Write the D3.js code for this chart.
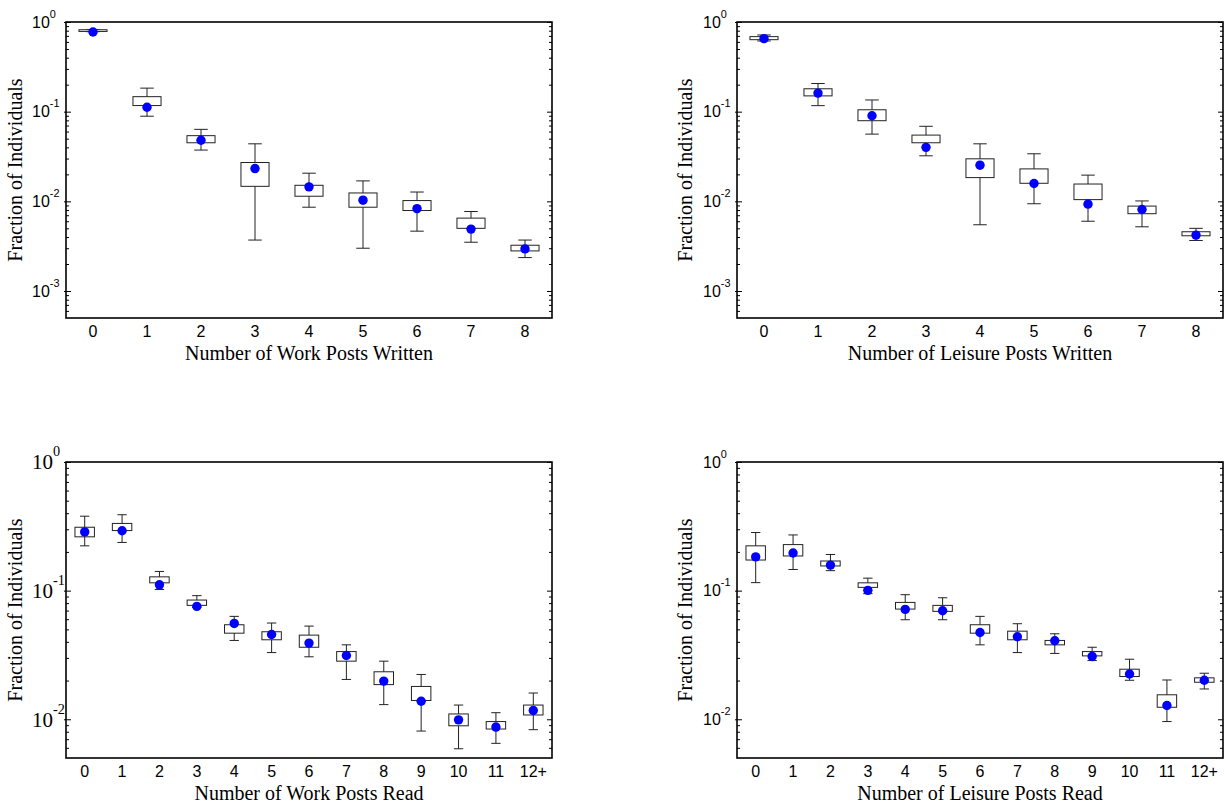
<!DOCTYPE html>
<html>
<head>
<meta charset="utf-8">
<script src="https://cdn.jsdelivr.net/npm/d3@7"></script>
<style>
  body { margin: 0; background: #fff; }
  svg { display: block; }
</style>
</head>
<body>
<div id="chart"></div>
<script>
// categories
const catsWritten = ["0", "1", "2", "3", "4", "5", "6", "7", "8"];
const catsRead = ["0", "1", "2", "3", "4", "5", "6", "7", "8", "9", "10", "11", "12+"];

// work posts written
const workWrittenHi   = [0.825, 0.183, 0.0635, 0.0438, 0.0206, 0.0169, 0.0127, 0.0077, 0.0037];
const workWrittenQ3   = [0.82, 0.147, 0.054, 0.0271, 0.0151, 0.0124, 0.0102, 0.0065, 0.00324];
const workWrittenQ1   = [0.785, 0.117, 0.045, 0.0147, 0.0114, 0.0086, 0.0079, 0.0050, 0.0028];
const workWrittenLo   = [0.78, 0.089, 0.0373, 0.0037, 0.0086, 0.0030, 0.00465, 0.0035, 0.00236];
const workWrittenMean = [0.774, 0.112, 0.048, 0.0232, 0.0145, 0.0103, 0.0083, 0.0049, 0.00295];

// leisure posts written
const leisureWrittenHi   = [0.717, 0.206, 0.135, 0.0687, 0.0438, 0.0339, 0.0196, 0.0101, 0.0050];
const leisureWrittenQ3   = [0.687, 0.180, 0.105, 0.0548, 0.0298, 0.023, 0.0156, 0.00885, 0.00458];
const leisureWrittenQ1   = [0.635, 0.150, 0.0793, 0.045, 0.0184, 0.0159, 0.01045, 0.00728, 0.00413];
const leisureWrittenLo   = [0.614, 0.1167, 0.0562, 0.0322, 0.00548, 0.0094, 0.0060, 0.0052, 0.00366];
const leisureWrittenMean = [0.652, 0.161, 0.090, 0.040, 0.0253, 0.0158, 0.0093, 0.0081, 0.0042];

// work posts read
const workReadHi   = [0.379, 0.389, 0.141, 0.0914, 0.0631, 0.056, 0.053, 0.0379, 0.0283, 0.0223, 0.0129, 0.01125, 0.016];
const workReadQ3   = [0.311, 0.333, 0.128, 0.0845, 0.0543, 0.0479, 0.0451, 0.0336, 0.0234, 0.018, 0.011, 0.0096, 0.0129];
const workReadQ1   = [0.262, 0.293, 0.115, 0.0768, 0.0467, 0.0415, 0.0363, 0.0283, 0.0186, 0.014, 0.0089, 0.0084, 0.0108];
const workReadLo   = [0.223, 0.237, 0.102, 0.074, 0.041, 0.033, 0.0306, 0.0204, 0.013, 0.0081, 0.0059, 0.0065, 0.0083];
const workReadMean = [0.286, 0.292, 0.111, 0.0755, 0.0556, 0.0456, 0.0391, 0.0313, 0.0198, 0.0138, 0.0099, 0.0087, 0.0117];

// leisure posts read
const leisureReadHi   = [0.283, 0.271, 0.191, 0.125, 0.093, 0.088, 0.0631, 0.0553, 0.0462, 0.0363, 0.0293, 0.0202, 0.0228];
const leisureReadQ3   = [0.223, 0.228, 0.170, 0.115, 0.081, 0.0768, 0.0543, 0.0484, 0.041, 0.0336, 0.0245, 0.0155, 0.021];
const leisureReadQ1   = [0.173, 0.186, 0.1555, 0.106, 0.0719, 0.069, 0.0467, 0.0415, 0.0379, 0.0311, 0.0215, 0.0124, 0.0194];
const leisureReadLo   = [0.1154, 0.146, 0.143, 0.0947, 0.0594, 0.0594, 0.0379, 0.033, 0.0325, 0.0286, 0.0201, 0.0096, 0.0172];
const leisureReadMean = [0.183, 0.196, 0.158, 0.1005, 0.0715, 0.0698, 0.0473, 0.0438, 0.0408, 0.0308, 0.0225, 0.0128, 0.0201];

// y axis decades
const decadesWritten = [1, 0.1, 0.01, 0.001];
const decadesRead = [1, 0.1, 0.01];

const SANS = "'Liberation Sans', Arial, sans-serif";
const SERIF = "'Liberation Serif', 'Times New Roman', serif";

const svg = d3.select('#chart')
    .append('svg')
    .attr('width', 1225)
    .attr('height', 807);

const width = 486, height = 296;

function minorTicks(domain) {
    let out = [];
    for (let e = -4; e < 0; e++) {
        for (let m = 2; m <= 9; m++) {
            let v = m * Math.pow(10, e);
            if (v > domain[0] * 1.0001 && v < domain[1]) out.push(v);
        }
    }
    return out;
}

function drawPanel(p) {
    const group = svg.append('g')
        .attr('transform', 'translate(' + p.left + ',' + p.top + ')');

    const xScale = d3.scaleBand()
        .domain(p.cats)
        .range([0, width]);

    const yScale = d3.scaleLog()
        .domain(p.domain)
        .range([height, 0]);

    const step = xScale.bandwidth();
    const cx = d => xScale(d) + step / 2;

    // y axis, left
    const yMajor = d3.axisLeft(yScale)
        .tickValues(p.decades)
        .tickSizeInner(-5)
        .tickSizeOuter(0)
        .tickFormat(() => '');

    let yl = group.append('g').attr('class', 'axis y-axis').call(yMajor);
    yl.select('.domain').remove();
    // labels start at a fixed x, 10 plus a raised exponent
    yl.selectAll('.tick text').each(function (d) {
        const t = d3.select(this)
            .attr('x', -34)
            .attr('text-anchor', 'start')
            .style('font-family', p.labelFont)
            .style('font-size', p.labelSize + 'px')
            .attr('fill', '#000');
        t.append('tspan').text('10');
        t.append('tspan')
            .attr('dy', '-0.9em')
            .style('font-size', (p.labelSize * 0.68) + 'px')
            .text(Math.round(Math.log10(d)));
    });

    let ylo = group.append('g').call(
        d3.axisLeft(yScale).tickValues(p.decades).tickSize(2).tickFormat(() => ''));
    ylo.select('.domain').remove();

    let ym = group.append('g').call(
        d3.axisLeft(yScale).tickValues(minorTicks(p.domain)).tickSize(-3).tickFormat(() => ''));
    ym.select('.domain').remove();

    // y axis, right
    let yr = group.append('g').attr('transform', `translate(${width},0)`).call(
        d3.axisRight(yScale).tickValues(p.decades).tickSize(-5).tickFormat(() => ''));
    yr.select('.domain').remove();
    let yrm = group.append('g').attr('transform', `translate(${width},0)`).call(
        d3.axisRight(yScale).tickValues(minorTicks(p.domain)).tickSize(-3).tickFormat(() => ''));
    yrm.select('.domain').remove();

    group.selectAll('.tick line').attr('stroke', '#000');

    // x axis
    let xl = group.append('g')
        .attr('class', 'axis x-axis')
        .attr('transform', `translate(0, ${height})`)
        .call(d3.axisBottom(xScale).tickSize(0).tickPadding(8));
    xl.select('.domain').remove();
    xl.selectAll('.tick text')
        .style('font-family', SANS)
        .style('font-size', '16px')
        .attr('fill', '#000');

    // frame
    group.append('rect')
        .attr('width', width)
        .attr('height', height)
        .attr('fill', 'none')
        .attr('stroke', '#000')
        .attr('stroke-width', 1.6);

    const rows = p.cats.map((c, i) => ({
        cat: c, hi: p.hi[i], q3: p.q3[i], q1: p.q1[i], lo: p.lo[i], mean: p.mean[i]
    }));

    const boxW = step * 0.52, capW = step * 0.25;

    const marks = group.selectAll('.box')
        .data(rows)
        .join('g')
        .attr('class', 'box');

    marks.append('line')
        .attr('x1', d => cx(d.cat)).attr('x2', d => cx(d.cat))
        .attr('y1', d => yScale(d.hi)).attr('y2', d => yScale(d.lo))
        .attr('stroke', '#222');

    marks.append('line')
        .attr('x1', d => cx(d.cat) - capW / 2).attr('x2', d => cx(d.cat) + capW / 2)
        .attr('y1', d => yScale(d.hi)).attr('y2', d => yScale(d.hi))
        .attr('stroke', '#222');

    marks.append('line')
        .attr('x1', d => cx(d.cat) - capW / 2).attr('x2', d => cx(d.cat) + capW / 2)
        .attr('y1', d => yScale(d.lo)).attr('y2', d => yScale(d.lo))
        .attr('stroke', '#222');

    marks.append('rect')
        .attr('x', d => cx(d.cat) - boxW / 2)
        .attr('width', boxW)
        .attr('y', d => yScale(d.q3))
        .attr('height', d => Math.max(1, yScale(d.q1) - yScale(d.q3)))
        .attr('fill', '#fff')
        .attr('stroke', '#222');

    marks.append('circle')
        .attr('cx', d => cx(d.cat))
        .attr('cy', d => yScale(d.mean))
        .attr('r', 4.7)
        .attr('fill', '#0000ff');

    // titles
    group.append('text')
        .attr('x', width / 2)
        .attr('y', height + 42)
        .attr('text-anchor', 'middle')
        .style('font-family', SERIF)
        .style('font-size', '20px')
        .text(p.xTitle);

    group.append('text')
        .attr('transform', `translate(${22 - p.left + p.titleX}, ${height / 2}) rotate(-90)`)
        .attr('text-anchor', 'middle')
        .style('font-family', SERIF)
        .style('font-size', '20px')
        .text('Fraction of Individuals');
}

drawPanel({
    left: 66, top: 22, titleX: 0, cats: catsWritten, domain: [5e-4, 1], decades: decadesWritten,
    hi: workWrittenHi, q3: workWrittenQ3, q1: workWrittenQ1, lo: workWrittenLo, mean: workWrittenMean,
    xTitle: 'Number of Work Posts Written', labelFont: SANS, labelSize: 16
});
drawPanel({
    left: 737, top: 22, titleX: 670, cats: catsWritten, domain: [5e-4, 1], decades: decadesWritten,
    hi: leisureWrittenHi, q3: leisureWrittenQ3, q1: leisureWrittenQ1, lo: leisureWrittenLo, mean: leisureWrittenMean,
    xTitle: 'Number of Leisure Posts Written', labelFont: SANS, labelSize: 16
});
drawPanel({
    left: 66, top: 462, titleX: 0, cats: catsRead, domain: [5e-3, 1], decades: decadesRead,
    hi: workReadHi, q3: workReadQ3, q1: workReadQ1, lo: workReadLo, mean: workReadMean,
    xTitle: 'Number of Work Posts Read', labelFont: SERIF, labelSize: 21
});
drawPanel({
    left: 737, top: 462, titleX: 670, cats: catsRead, domain: [5e-3, 1], decades: decadesRead,
    hi: leisureReadHi, q3: leisureReadQ3, q1: leisureReadQ1, lo: leisureReadLo, mean: leisureReadMean,
    xTitle: 'Number of Leisure Posts Read', labelFont: SANS, labelSize: 16
});
</script>
</body>
</html>
